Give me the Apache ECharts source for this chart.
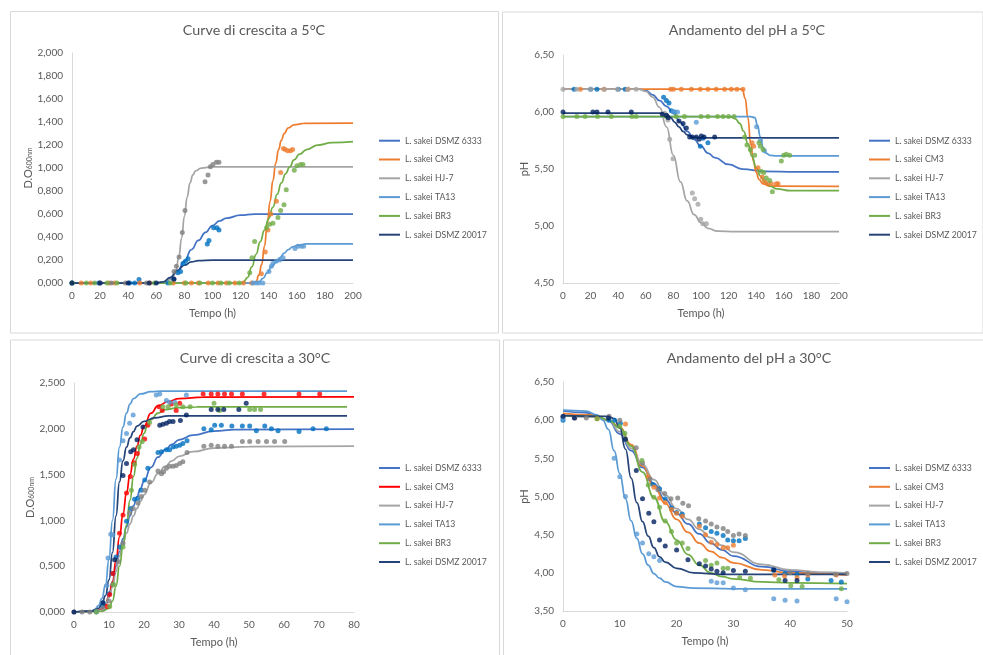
<!DOCTYPE html>
<html><head><meta charset="utf-8">
<script src="https://cdn.jsdelivr.net/npm/echarts@6/dist/echarts.min.js"></script>
<style>html,body{margin:0;padding:0;background:#fff}#c{width:983px;height:655px}</style>
</head><body><div id="c"></div>
<script>
const strains = ['L. sakei DSMZ 6333','L. sakei CM3','L. sakei HJ-7','L. sakei TA13','L. sakei BR3','L. sakei DSMZ 20017'];
const titles = ['Curve di crescita a 5°C','Andamento del pH a 5°C','Curve di crescita a 30°C','Andamento del pH a 30°C'];
const xTicks5 = [0,200,20], xTicks30g = [0,80,10], xTicks30p = [0,50,10];
const yTicksOD5 = [0,2,0.2], yTicksPH5 = [4.5,6.5,0.5], yTicksOD30 = [0,2.5,0.5], yTicksPH30 = [3.5,6.5,0.5];

// ---- Top-left: growth 5°C ----
const tl_6333_fit = [[0,0],[60,0],[65,0.005],[70,0.04],[75,0.1],[80,0.19],[85,0.29],[90,0.37],[95,0.44],[100,0.5],[105,0.54],[110,0.565],[120,0.59],[130,0.6],[200,0.6]];
const tl_cm3_fit = [[0,0],[128,0],[131,0.01],[133,0.07],[135,0.16],[137,0.32],[139,0.52],[141,0.71],[143,0.89],[145,1.04],[147,1.16],[149,1.24],[151,1.3],[154,1.35],[158,1.375],[165,1.388],[200,1.39]];
const tl_hj7_fit = [[0,0],[60,0],[65,0.01],[70,0.03],[72,0.06],[74,0.11],[76,0.22],[78,0.39],[80,0.58],[82,0.75],[84,0.87],[86,0.94],[88,0.975],[92,1.0],[100,1.01],[200,1.01]];
const tl_ta13_fit = [[0,0],[128,0],[133,0.01],[136,0.04],[139,0.09],[142,0.14],[145,0.18],[148,0.22],[151,0.26],[154,0.29],[157,0.315],[161,0.33],[167,0.34],[200,0.34]];
const tl_br3_fit = [[0,0],[120,0],[122,0.01],[125,0.05],[128,0.14],[131,0.25],[134,0.36],[137,0.46],[140,0.56],[143,0.66],[146,0.77],[149,0.87],[152,0.95],[155,1.01],[158,1.07],[162,1.12],[167,1.16],[175,1.2],[185,1.22],[200,1.23]];
const tl_20017_fit = [[0,0],[60,0],[65,0.01],[70,0.05],[75,0.11],[80,0.155],[85,0.183],[90,0.195],[100,0.2],[200,0.2]];
const tl_6333_pts = [[0,0],[19,0],[41,0],[44.6,0],[47.7,0.03],[68.3,0],[72.4,0.03],[75.4,0.09],[77.3,0.1],[79,0.17],[80.7,0.19],[82.6,0.21],[96.3,0.34],[97.5,0.37],[100.8,0.48],[103.2,0.48],[104.6,0.46]];
const tl_cm3_pts = [[6.6,0],[13.3,0],[26.3,0],[30.4,0],[48.2,0],[55.3,0],[72,0],[80,0],[85,0],[90,0],[97,0],[104,0],[110,0],[116,0],[122,0],[128,0],[134.8,0.08],[137.6,0.27],[139.5,0.46],[141.5,0.6],[145.5,0.71],[148.5,0.96],[150.5,1.17],[151.8,1.16],[153.5,1.15],[155.5,1.15],[157,1.16]];
const tl_hj7_pts = [[0,0],[20,0],[28,0],[38,0],[53,0],[72.6,0.1],[74.3,0.145],[76.2,0.226],[78.5,0.44],[80.4,0.63],[94.7,0.88],[96.8,0.94],[98.5,1.01],[100.3,1.03],[102.7,1.05],[104.6,1.05]];
const tl_ta13_pts = [[128.8,0],[131,0],[133,0],[135.8,0],[140.2,0.1],[141.9,0.145],[143,0.17],[145.4,0.19],[147.8,0.2],[150.2,0.22],[158.7,0.3],[160.9,0.32],[163.2,0.32],[164.9,0.32]];
const tl_br3_pts = [[0,0],[10.2,0],[16.1,0],[24.9,0],[32,0],[58.8,0],[70,0],[81,0],[91,0],[100,0],[106,0],[112,0],[119,0],[126.5,0.09],[128.1,0.22],[130,0.36],[138.5,0.48],[140.7,0.51],[143,0.52],[146.6,0.57],[148.5,0.63],[150.9,0.68],[152.5,0.81],[158.2,0.98],[160.1,1.02],[162.7,1.03],[164.4,1.03]];
const tl_20017_pts = [[0,0],[20,0],[40,0],[55,0],[60,0],[72.6,0.035]];

// ---- Top-right: pH 5°C ----
const tr_6333_fit = [[0,6.2],[55,6.2],[60,6.19],[65,6.15],[70,6.1],[75,6.05],[80,5.99],[85,5.91],[90,5.83],[95,5.76],[100,5.7],[105,5.64],[110,5.6],[120,5.54],[130,5.5],[145,5.48],[170,5.475],[200,5.475]];
const tr_cm3_fit = [[0,6.2],[130,6.2],[132,6.12],[134,5.95],[136,5.72],[138,5.57],[140,5.47],[142,5.41],[145,5.37],[150,5.35],[200,5.347]];
const tr_hj7_fit = [[0,6.2],[55,6.2],[60,6.18],[65,6.13],[70,6.04],[75,5.87],[80,5.62],[85,5.39],[90,5.22],[95,5.1],[100,5.03],[105,4.98],[112,4.955],[125,4.95],[200,4.95]];
const tr_ta13_fit = [[0,5.96],[136,5.96],[139,5.95],[141,5.88],[143,5.78],[145,5.69],[147,5.64],[150,5.62],[155,5.615],[200,5.615]];
const tr_br3_fit = [[0,5.96],[118,5.96],[122,5.955],[125,5.94],[128,5.9],[131,5.83],[134,5.72],[137,5.61],[140,5.51],[143,5.44],[146,5.39],[150,5.35],[155,5.325],[165,5.31],[200,5.31]];
const tr_20017_fit = [[0,5.99],[70,5.99],[75,5.985],[78,5.95],[81,5.91],[84,5.87],[87,5.83],[90,5.8],[94,5.78],[100,5.773],[200,5.773]];
const tr_6333_pts = [[8,6.2],[20,6.2],[24.6,6.2],[40,6.2],[45,6.2],[72.9,6.13],[74.9,6.1],[76.8,6.08],[78.5,6.01],[80.9,6.0],[99.5,5.7],[101.4,5.77],[105,5.73]];
const tr_cm3_pts = [[12.6,6.2],[29.7,6.2],[47.1,6.2],[78,6.2],[80,6.2],[85.7,6.2],[93,6.2],[99.5,6.2],[105,6.2],[111,6.2],[117.1,6.2],[121.9,6.2],[126,6.2],[130.4,6.2],[137,5.73],[138.2,5.7],[141.3,5.51],[144.4,5.43],[146.1,5.39],[148.6,5.37],[151,5.37],[154.6,5.37],[155.8,5.37]];
const tr_hj7_pts = [[0,6.2],[10,6.2],[20,6.2],[30,6.2],[39.5,6.2],[47,6.2],[53,6.2],[73.7,5.99],[76,5.93],[77.3,5.76],[79.7,5.59],[93.7,5.29],[95.4,5.24],[97.8,5.19],[99.8,5.06],[101.4,5.02],[103.9,5.02]];
const tr_ta13_pts = [[80,6.0],[83,6.0],[96.6,5.91],[140.3,5.87],[143,5.75],[146,5.66]];
const tr_br3_pts = [[0,5.96],[10,5.96],[16,5.96],[25,5.96],[35,5.96],[50,5.96],[53,5.96],[75,5.96],[82,5.96],[88,5.96],[100,5.96],[105,5.96],[112,5.96],[116,5.96],[120,5.96],[124,5.96],[131.6,5.78],[133.3,5.71],[135.7,5.67],[138.9,5.62],[142,5.73],[143,5.7],[145,5.67],[143.5,5.48],[145.5,5.47],[147.3,5.42],[149.8,5.4],[151.7,5.3],[158.2,5.57],[159.9,5.62],[161.8,5.63],[164.3,5.62]];
const tr_20017_pts = [[0,6.0],[21.7,6.0],[24.6,6.0],[32.6,6.0],[49.5,6.0],[72,5.98],[74.9,5.97],[76.3,5.95],[84,5.92],[87,5.9],[89.4,5.86],[91.8,5.78],[93.7,5.78],[96.6,5.78],[98.6,5.76],[100.2,5.79],[102.2,5.78],[109.9,5.78]];

// ---- Bottom-left: growth 30°C ----
const bl_6333_fit = [[0,0],[6,0.01],[8,0.04],[9,0.08],[10,0.18],[11,0.33],[12,0.5],[13,0.66],[14,0.8],[15,0.93],[16,1.05],[17,1.16],[18,1.26],[19,1.35],[20,1.43],[22,1.58],[24,1.69],[26,1.77],[28,1.83],[30,1.88],[34,1.93],[40,1.975],[46,1.99],[80,1.996]];
const bl_cm3_fit = [[0,0],[6,0.01],[8,0.04],[9,0.08],[10,0.17],[11,0.33],[12,0.56],[13,0.82],[14,1.07],[15,1.3],[16,1.5],[17,1.67],[18,1.81],[19,1.93],[20,2.03],[22,2.17],[24,2.25],[27,2.3],[30,2.33],[37,2.345],[80,2.348]];
const bl_hj7_fit = [[0,0],[6,0.01],[8,0.05],[9,0.09],[10,0.16],[11,0.27],[12,0.44],[13,0.61],[14,0.75],[15,0.86],[16,0.96],[17,1.05],[18,1.13],[19,1.21],[20,1.28],[22,1.41],[24,1.51],[26,1.59],[28,1.65],[30,1.7],[34,1.75],[40,1.79],[50,1.805],[80,1.81]];
const bl_ta13_fit = [[0,0],[5,0.01],[6,0.03],[7,0.07],[8,0.15],[9,0.3],[10,0.58],[11,1.0],[12,1.45],[13,1.8],[14,2.02],[15,2.17],[16,2.27],[17,2.33],[19,2.38],[22,2.405],[25,2.41],[78,2.41]];
const bl_br3_fit = [[0,0],[8,0.01],[10,0.04],[11,0.12],[12,0.28],[13,0.5],[14,0.72],[15,0.95],[16,1.22],[17,1.48],[18,1.68],[19,1.83],[20,1.95],[21,2.04],[22,2.1],[24,2.17],[26,2.21],[30,2.23],[35,2.238],[78,2.239]];
const bl_20017_fit = [[0,0],[5,0.01],[7,0.04],[8,0.09],[9,0.18],[10,0.35],[11,0.65],[12,1.05],[13,1.42],[14,1.65],[15,1.8],[16,1.9],[17,1.97],[18,2.03],[20,2.08],[23,2.12],[27,2.14],[78,2.14]];
const bl_6333_pts = [[8.3,0.07],[10,0.2],[11.1,0.42],[12,0.6],[13,0.71],[15,0.99],[16.2,1.13],[17.3,1.23],[18.3,1.24],[19.2,1.33],[20.2,1.44],[21.1,1.57],[24,1.74],[25,1.75],[26.4,1.77],[27.3,1.77],[28.3,1.8],[29.2,1.81],[30.2,1.82],[31.1,1.84],[32.3,1.87],[37.1,2.0],[39.2,1.99],[40.2,2.04],[42.1,2.04],[45.1,2.03],[48.1,2.03],[50.2,2.03],[52.1,1.98],[54.5,2.03],[56.4,2.0],[58.3,1.98],[64.3,1.97],[68.3,2.0],[72.1,2.0]];
const bl_cm3_pts = [[9.4,0.06],[10.2,0.19],[11.1,0.42],[13,0.86],[14,1.06],[15,1.3],[16.1,1.48],[17.1,1.63],[18.1,1.73],[20.2,1.89],[21.1,2.04],[24.3,2.24],[25.2,2.2],[27.8,2.27],[29.2,2.2],[30.2,2.28],[36.9,2.38],[39.2,2.38],[41.1,2.38],[43,2.38],[45,2.38],[48.1,2.38],[54.3,2.38],[64.3,2.38],[70.2,2.38]];
const bl_hj7_pts = [[0,0],[2.3,0],[4.5,0],[6.5,0.01],[8.3,0.04],[10,0.12],[11.1,0.3],[12.6,0.55],[14,0.75],[15.9,1.08],[16.9,1.13],[18.3,1.19],[19.2,1.26],[20.2,1.33],[21.6,1.42],[24,1.54],[25,1.51],[25.6,1.53],[26.4,1.57],[27.3,1.59],[28.3,1.59],[29.2,1.6],[30.2,1.62],[31.1,1.64],[32.3,1.74],[37.1,1.81],[39.2,1.82],[41.1,1.81],[43,1.81],[45,1.81],[48.1,1.86],[50.2,1.86],[52.6,1.86],[55,1.86],[57.3,1.86],[60.2,1.86]];
const bl_ta13_pts = [[6.4,0],[8.3,0.1],[9.4,0.29],[9.7,0.59],[10.5,0.85],[11.1,0.84],[13,1.66],[14,1.87],[15,1.95],[15.9,2.06],[16.9,2.15],[23.5,2.37],[24.5,2.38],[26.4,2.31],[27.3,2.29],[28.8,2.29],[32.1,2.37]];
const bl_br3_pts = [[6.4,0],[10.2,0.06],[11.3,0.3],[14,0.71],[16.4,1.33],[17.3,1.61],[18.6,1.8],[19.5,1.86],[21.6,2.07],[25.4,2.24],[26.9,2.24],[29.2,2.26],[31.1,2.24],[33.2,2.24],[40,2.28],[41.6,2.2],[50.2,2.21],[51.6,2.21],[53.3,2.21]];
const bl_20017_pts = [[0,0],[8.3,0.1],[11.6,0.57],[14,1.49],[15,1.62],[16.2,1.75],[17,1.77],[18,1.88],[19.7,2.02],[24.5,2.04],[25.4,2.05],[26.4,2.06],[27.3,2.08],[28.3,2.08],[30.4,2.09],[32.1,2.15],[39.2,2.21],[41.1,2.21],[42.8,2.21],[47.1,2.21],[49.2,2.28]];

// ---- Bottom-right: pH 30°C ----
const br_6333_fit = [[0,6.12],[4,6.1],[6,6.05],[8,5.99],[10,5.82],[12,5.6],[14,5.38],[16,5.17],[18,4.96],[20,4.78],[22,4.64],[24,4.51],[26,4.39],[28,4.3],[30,4.22],[35,4.08],[40,4.02],[45,4.0],[50,3.99]];
const br_cm3_fit = [[0,6.09],[5,6.07],[8,6.0],[10,5.91],[12,5.68],[14,5.4],[16,5.14],[18,4.91],[20,4.7],[22,4.53],[24,4.39],[26,4.28],[28,4.2],[30,4.13],[35,4.04],[40,4.0],[50,3.97]];
const br_hj7_fit = [[0,6.06],[6,6.04],[8,6.0],[10,5.85],[12,5.63],[14,5.42],[16,5.22],[18,5.02],[20,4.84],[22,4.7],[24,4.57],[26,4.46],[28,4.36],[30,4.27],[35,4.11],[40,4.04],[45,4.01],[50,4.0]];
const br_ta13_fit = [[0,6.13],[4,6.12],[6,6.07],[7,6.0],[8,5.88],[9,5.6],[10,5.3],[11,4.97],[12,4.68],[13,4.45],[14,4.25],[15,4.1],[16,3.99],[17,3.93],[18,3.88],[20,3.82],[23,3.8],[30,3.79],[50,3.79]];
const br_br3_fit = [[0,6.06],[6,6.05],[8,6.0],[10,5.9],[12,5.66],[14,5.32],[16,4.99],[18,4.67],[20,4.43],[22,4.24],[24,4.1],[26,4.0],[28,3.95],[30,3.92],[35,3.88],[40,3.87],[50,3.86]];
const br_20017_fit = [[0,6.06],[8,6.05],[9,6.02],[10,5.9],[11,5.62],[12,5.24],[13,4.92],[14,4.67],[15,4.48],[16,4.33],[17,4.21],[18,4.14],[20,4.06],[23,4.0],[28,3.98],[50,3.98]];
const br_6333_pts = [[0,6.0],[8.1,6.0],[9.1,6.0],[10.1,5.96],[15.8,5.16],[17,5.1],[18,4.97],[19.1,4.85],[20,4.79],[21,4.77],[24,4.64],[25.1,4.59],[26.1,4.54],[27.1,4.52],[28.2,4.49],[29,4.43],[30,4.42],[31,4.42],[32.1,4.45],[37.1,4.03],[39.1,3.99],[41.2,3.98],[43.1,3.92],[47.2,3.9],[49,3.88]];
const br_cm3_pts = [[6,6.02],[11,5.95],[15,5.26],[16,5.12],[17,4.98],[18,4.92],[19.1,4.83],[20,4.78],[21,4.74],[24,4.61],[25.1,4.5],[26.1,4.4],[27.1,4.37],[28.2,4.33],[29,4.33],[30,4.36],[37.3,3.97],[39,3.96],[41.2,3.94],[43.1,3.97],[48.1,3.97]];
const br_hj7_pts = [[0,6.04],[2.1,6.03],[4.1,6.03],[8.1,6.05],[10,6.0],[12.9,5.64],[14,5.44],[15.3,5.23],[16.7,5.09],[17.9,5.04],[19,4.97],[20.2,4.98],[21.1,4.91],[22.1,4.88],[23.9,4.71],[25.1,4.68],[26.1,4.64],[27.1,4.6],[28.2,4.58],[29,4.54],[30,4.49],[31,4.51],[32.1,4.49],[40,4.0],[43.1,3.99],[48,3.98],[50,3.99]];
const br_ta13_pts = [[0,6.02],[9,5.5],[10,5.26],[11,5.0],[13,4.51],[14,4.39],[15.1,4.25],[16,4.21],[17,4.16],[26.1,3.89],[27.1,3.87],[28.2,3.87],[30,3.8],[32.1,3.78],[37.1,3.66],[39.1,3.64],[41.2,3.63],[48.1,3.66],[50,3.62]];
const br_br3_pts = [[6,6.02],[10,5.92],[10.9,5.83],[13.9,5.47],[15,5.15],[16,4.99],[17,4.86],[18,4.68],[19.1,4.54],[20,4.39],[21,4.39],[22,4.32],[25.1,4.16],[26.1,4.1],[27.1,4.13],[28.2,4.06],[29,4.06],[31.1,3.94],[33,3.93],[38,3.91],[40.1,3.83],[42.1,3.82],[49,3.79]];
const br_20017_pts = [[0,6.05],[2,6.03],[8,6.03],[11,5.75],[12.9,5.34],[14,4.97],[15.1,4.78],[16,4.67],[17,4.43],[18,4.35],[20,4.3],[22,4.17],[24,4.12],[25.1,4.09],[26.1,4.05],[27.1,4.02],[28.2,4.0],[30,4.03],[32.1,4.02],[37.1,4.04],[39.1,3.9],[41.2,3.9]];

const panels = [
  {fits:[tl_6333_fit,tl_cm3_fit,tl_hj7_fit,tl_ta13_fit,tl_br3_fit,tl_20017_fit], pts:[tl_6333_pts,tl_cm3_pts,tl_hj7_pts,tl_ta13_pts,tl_br3_pts,tl_20017_pts], xt:xTicks5, yt:yTicksOD5, dec:3, yname:'{a|D.O}{b|600nm}'},
  {fits:[tr_6333_fit,tr_cm3_fit,tr_hj7_fit,tr_ta13_fit,tr_br3_fit,tr_20017_fit], pts:[tr_6333_pts,tr_cm3_pts,tr_hj7_pts,tr_ta13_pts,tr_br3_pts,tr_20017_pts], xt:xTicks5, yt:yTicksPH5, dec:2, yname:'{a|pH}'},
  {fits:[bl_6333_fit,bl_cm3_fit,bl_hj7_fit,bl_ta13_fit,bl_br3_fit,bl_20017_fit], pts:[bl_6333_pts,bl_cm3_pts,bl_hj7_pts,bl_ta13_pts,bl_br3_pts,bl_20017_pts], xt:xTicks30g, yt:yTicksOD30, dec:3, yname:'{a|D.O}{b|600nm}'},
  {fits:[br_6333_fit,br_cm3_fit,br_hj7_fit,br_ta13_fit,br_br3_fit,br_20017_fit], pts:[br_6333_pts,br_cm3_pts,br_hj7_pts,br_ta13_pts,br_br3_pts,br_20017_pts], xt:xTicks30p, yt:yTicksPH30, dec:2, yname:'{a|pH}'}
];

// styles / layout
const lineColors = ['#4472C4','#ED7D31','#A5A5A5','#5B9BD5','#70AD47','#264478'];
const ptColors = ['#0070C0','#ED7D31','#7F7F7F','#5B9BD5','#70AD47','#002060'];
const FONT = 'Lato, "Open Sans", sans-serif';
const TXT = '#595959';
const grids = [
  {left:72, top:53, width:281, height:230},
  {left:563, top:55, width:276, height:228},
  {left:74, top:383, width:280, height:229},
  {left:563, top:382, width:284, height:229}
];
const yNameGap = [32, 33, 34, 31];
const legendPos = [{left:379, top:134.7},{left:869, top:134.7},{left:379, top:462},{left:869, top:462}];
const titlePos = [[254,30],[747,30],[255,358],[749,358]];
const boxes = [[10,11.5,488,321.5],[502,12,480.5,321],[10,340,489,330],[503,340,490,330]];

const option = {
  animation:false,
  backgroundColor:'#fff',
  textStyle:{fontFamily:FONT},
  grid: grids,
  xAxis: panels.map((p,i)=>({
    type:'value', gridIndex:i, min:p.xt[0], max:p.xt[1], interval:p.xt[2],
    name:'Tempo (h)', nameLocation:'middle', nameGap:25,
    nameTextStyle:{color:TXT, fontSize:11, fontFamily:FONT},
    axisLine:{show:true, lineStyle:{color:'#D9D9D9', width:1}},
    axisTick:{show:false}, splitLine:{show:false},
    axisLabel:{color:TXT, fontSize:10, fontFamily:FONT, margin:8}
  })),
  yAxis: panels.map((p,i)=>({
    type:'value', gridIndex:i, min:p.yt[0], max:p.yt[1], interval:p.yt[2],
    name:p.yname, nameLocation:'middle', nameGap:yNameGap[i],
    nameTextStyle:{color:TXT, fontFamily:FONT, rich:{a:{fontSize:11, color:TXT, fontFamily:FONT, lineHeight:14, verticalAlign:'bottom'}, b:{fontSize:7, color:TXT, fontFamily:FONT, lineHeight:11, verticalAlign:'bottom'}}},
    axisLine:{show:true, lineStyle:{color:'#D9D9D9', width:1}},
    axisTick:{show:false}, splitLine:{show:false},
    axisLabel:{color:TXT, fontSize:10, fontFamily:FONT, margin:9, formatter:v=>v.toFixed(p.dec).replace('.',',')}
  })),
  legend: panels.map((p,i)=>({
    orient:'vertical', left:legendPos[i].left, top:legendPos[i].top, padding:0,
    icon:'rect', itemWidth:21, itemHeight:2, itemGap:6.8,
    textStyle:{color:TXT, fontSize:8.7, fontFamily:FONT, lineHeight:12},
    data: strains.map(s=>'P'+i+'|'+s),
    formatter: n=>n.split('|')[1],
    selectedMode:false
  })),
  graphic: boxes.map(b=>({type:'rect', silent:true, z:-1, shape:{x:b[0]+0.5, y:b[1], width:b[2], height:b[3]}, style:{fill:'none', stroke:'#D9D9D9', lineWidth:1}}))
    .concat(titles.map((t,i)=>({type:'text', silent:true, x:titlePos[i][0], y:titlePos[i][1], style:{text:t, fill:TXT, fontSize:14.3, fontFamily:FONT, align:'center', verticalAlign:'middle'}}))),
  series: []
};

panels.forEach((p,i)=>{
  strains.forEach((s,k)=>{
    let lc = lineColors[k], pc = ptColors[k];
    if(i===2 && k===1){ lc = '#FF0000'; pc = '#FF0000'; }
    if(i===1 && k===2){ pc = '#A5A5A5'; }
    option.series.push({
      type:'line', name:'P'+i+'|'+s, xAxisIndex:i, yAxisIndex:i, data:p.fits[k],
      showSymbol:false, smooth:true, smoothMonotone:'x',
      lineStyle:{color:lc, width:1.75}, itemStyle:{color:lc}, emphasis:{disabled:true}, z:2
    });
    option.series.push({
      type:'scatter', name:'P'+i+'|pts|'+s, xAxisIndex:i, yAxisIndex:i, data:p.pts[k],
      symbolSize:5, itemStyle:{color:pc}, emphasis:{disabled:true}, z:3
    });
  });
});

const chart = echarts.init(document.getElementById('c'), null, {renderer:'canvas'});
chart.setOption(option);
</script>
</body></html>
